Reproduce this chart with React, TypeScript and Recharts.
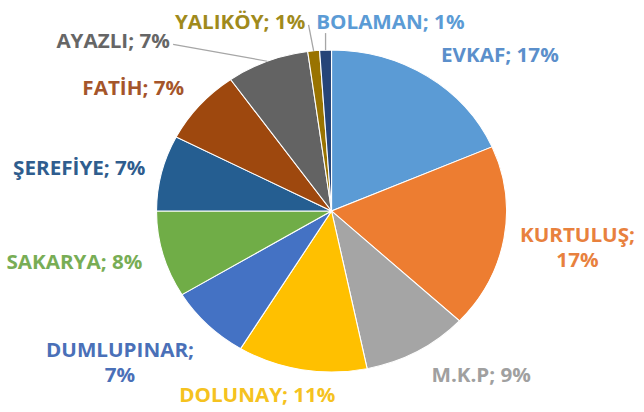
import { Cell, Pie, PieChart } from "recharts";

const districts = [
  "EVKAF",
  "KURTULUŞ",
  "M.K.P",
  "DOLUNAY",
  "DUMLUPINAR",
  "SAKARYA",
  "ŞEREFİYE",
  "FATİH",
  "AYAZLI",
  "YALIKÖY",
  "BOLAMAN",
];
const shares = [17, 17, 9, 11, 7, 8, 7, 7, 7, 1, 1];

const sliceColors = [
  "#5B9BD5",
  "#ED7D31",
  "#A5A5A5",
  "#FFC000",
  "#4472C4",
  "#70AD47",
  "#255E91",
  "#9E480E",
  "#636363",
  "#997300",
  "#264478",
];
const labelColors = [
  "#5B8FCB",
  "#E8813E",
  "#A0A0A0",
  "#F5C220",
  "#4A70B8",
  "#78AD55",
  "#2F5D8E",
  "#A5552A",
  "#666666",
  "#A08A1C",
  "#5B9BD5",
];

// label placement, like dragged Excel labels: turn (deg, clockwise) + gap outside the pie
const labelNudge: Record<string, { turn: number; gap: number; wrap?: boolean; leader?: boolean }> = {
  EVKAF: { turn: 11.5, gap: 59 },
  KURTULUŞ: { turn: -0.9, gap: 68, wrap: true },
  "M.K.P": { turn: -10.7, gap: 53 },
  DOLUNAY: { turn: 10.6, gap: 35 },
  DUMLUPINAR: { turn: 7.3, gap: 85, wrap: true },
  SAKARYA: { turn: 3.5, gap: 81 },
  ŞEREFİYE: { turn: -3.2, gap: 75 },
  FATİH: { turn: -7.1, gap: 59 },
  AYAZLI: { turn: -28.3, gap: 102, leader: true },
  YALIKÖY: { turn: -18.1, gap: 46, leader: true },
  BOLAMAN: { turn: 17.9, gap: 36, leader: true },
};

const STRETCH = 1.087; // the source picture is a bit wider than tall
const W = Math.round(644 / STRETCH);
const H = 412;
const FONT_SIZE = 19;
const FONT = `700 ${FONT_SIZE}px "Open Sans", sans-serif`;
const RAD = Math.PI / 180;

const data = districts.map((name, i) => ({ name, value: shares[i] }));

let ctx: CanvasRenderingContext2D | null = null;
function textWidth(s: string) {
  if (!ctx) ctx = document.createElement("canvas").getContext("2d");
  if (!ctx) return s.length * FONT_SIZE * 0.6;
  ctx.font = FONT;
  return ctx.measureText(s).width;
}

function renderLabel(props: any) {
  const { cx, cy, midAngle, outerRadius, index } = props;
  const name = districts[index];
  const nudge = labelNudge[name] ?? { turn: 0, gap: 30 };
  const a = (midAngle - nudge.turn) * RAD;
  const r = outerRadius + nudge.gap;
  const x = cx + r * Math.cos(a);
  const y = cy - r * Math.sin(a);
  const color = labelColors[index];
  const text = `${name}; ${shares[index]}%`;

  let leader = null;
  if (nudge.leader) {
    const ex = cx + outerRadius * Math.cos(midAngle * RAD);
    const ey = cy - outerRadius * Math.sin(midAngle * RAD);
    const w = textWidth(text);
    const left = x - w / 2;
    const right = x + w / 2;
    let tx = ex;
    let ty = y + FONT_SIZE / 2 + 2;
    if (ex > right) {
      tx = right + 3;
      ty = y + 3;
    } else if (ex < left) {
      tx = left - 3;
      ty = y + 3;
    }
    leader = <line x1={ex} y1={ey} x2={tx} y2={ty} stroke="#A6A6A6" strokeWidth={1.2} />;
  }

  const common = {
    fill: color,
    fontFamily: '"Open Sans", sans-serif',
    fontWeight: 700,
    fontSize: FONT_SIZE,
    textAnchor: "middle" as const,
    dominantBaseline: "central" as const,
  };

  return (
    <g key={`lbl-${index}`}>
      {leader}
      {nudge.wrap ? (
        <text x={x} y={y} {...common}>
          <tspan x={x} y={y - 12.5}>{`${name};`}</tspan>
          <tspan x={x} y={y + 12.5}>{`${shares[index]}%`}</tspan>
        </text>
      ) : (
        <text x={x} y={y} {...common}>
          {text}
        </text>
      )}
    </g>
  );
}

export default function App() {
  return (
    <div
      style={{
        position: "absolute",
        left: 0,
        top: 0,
        width: 644,
        height: H,
        overflow: "hidden",
        background: "#fff",
      }}
    >
      <div style={{ width: W, height: H, transform: `scaleX(${STRETCH})`, transformOrigin: "0 0" }}>
        <PieChart width={W} height={H} margin={{ top: 0, right: 0, bottom: 0, left: 0 }}>
          <Pie
            data={data}
            dataKey="value"
            nameKey="name"
            cx={305}
            cy={211}
            outerRadius={161}
            startAngle={90}
            endAngle={-270}
            stroke="#fff"
            strokeWidth={1}
            labelLine={false}
            label={renderLabel}
            isAnimationActive={false}
          >
            {data.map((d, i) => (
              <Cell key={d.name} fill={sliceColors[i]} />
            ))}
          </Pie>
        </PieChart>
      </div>
    </div>
  );
}
